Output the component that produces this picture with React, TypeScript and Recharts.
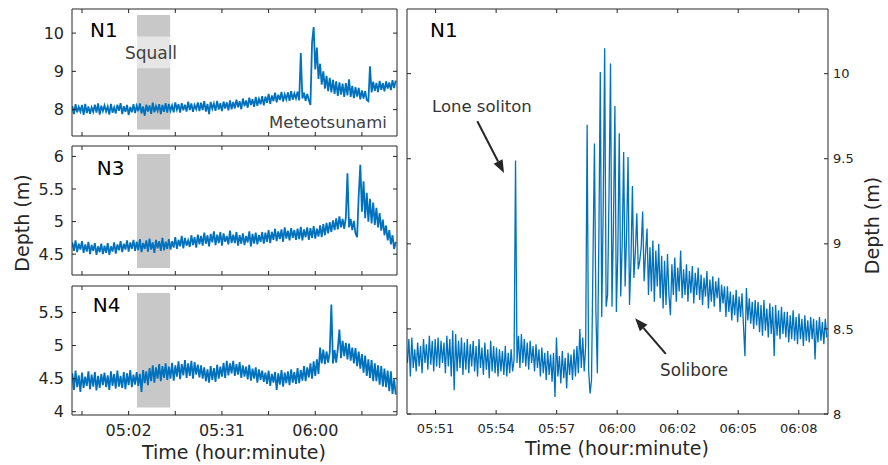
import React from "react";
import { LineChart, Line, XAxis, YAxis, ReferenceArea, ReferenceLine } from "recharts";

const BLUE = "#0072BD";
const AXIS = "#262626";
const FONT = "DejaVu Sans, sans-serif";

// time axis in minutes after midnight
const LEFT_START = 284.5;
const LEFT_STEP = 0.5;
const LEFT_DOMAIN = [284.4, 385.4];
const LEFT_TICKS = [287.5, 302, 316.5, 331, 345.5, 360, 374.5];
const LEFT_LABELED = [302, 331, 360];

const ZOOM_START = 349.95;
const ZOOM_STEP = 0.07;
const ZOOM_DOMAIN = [349.93, 370.1];
const ZOOM_TICKS = [351.3, 354.2, 357.1, 360, 362.9, 365.8, 368.7];

const SQUALL = [304.6, 314.9];

// depth (m) at N1, every 30 s
const N1_DEPTH = [
  8.09,7.88,8.14,7.93,8.07,7.95,8.12,7.86,8.15,7.91,8.08,7.89,8.06,7.94,8.13,7.92,8.16,7.87,8.10,7.96,
  8.11,7.95,8.08,7.87,8.15,7.92,8.06,7.90,8.13,7.97,8.17,7.88,8.09,7.94,8.12,7.86,8.07,7.93,8.14,7.91,
  8.10,7.96,8.16,7.90,8.08,7.84,8.13,7.95,8.11,7.89,8.18,7.93,8.09,7.97,8.14,7.88,8.12,7.94,8.17,7.92,
  8.15,7.97,8.11,7.93,8.19,8.00,8.14,7.92,8.17,7.98,8.13,7.95,8.21,7.99,8.16,7.94,8.12,8.01,8.19,7.96,
  8.18,7.99,8.22,7.95,8.15,7.88,8.20,8.02,8.16,7.97,8.23,8.00,8.17,7.96,8.21,8.03,8.19,7.98,8.24,8.01,
  8.20,8.03,8.26,8.06,8.22,8.01,8.29,8.09,8.24,8.05,8.31,8.12,8.27,8.07,8.33,8.10,8.28,8.14,8.35,8.11,
  8.34,8.18,8.41,8.15,8.37,8.22,8.44,8.19,8.39,8.25,8.46,8.21,8.40,8.27,8.45,8.23,8.48,8.26,8.42,8.29,
  8.47,8.24,9.48,8.29,8.44,8.23,8.41,8.25,8.12,9.75,10.16,9.05,9.62,8.80,9.20,8.65,9.00,8.55,8.88,8.48,
  8.83,8.45,8.78,8.41,8.74,8.36,8.71,8.39,8.68,8.33,8.69,8.37,8.79,8.33,8.62,8.30,8.59,8.34,8.57,8.27,
  8.50,8.29,8.48,8.25,8.22,9.13,8.45,8.73,8.49,8.70,8.46,8.75,8.52,8.69,8.48,8.74,8.55,8.71,8.51,8.77,
  8.56,8.76,
];

const N3_DEPTH = [
  4.68,4.55,4.71,4.53,4.66,4.57,4.70,4.52,4.65,4.54,4.69,4.50,4.64,4.55,4.67,4.49,4.62,4.53,4.66,4.50,
  4.63,4.52,4.67,4.49,4.62,4.54,4.68,4.51,4.65,4.56,4.70,4.53,4.66,4.57,4.71,4.54,4.68,4.58,4.72,4.55,
  4.69,4.56,4.73,4.53,4.67,4.58,4.71,4.54,4.74,4.57,4.68,4.52,4.72,4.59,4.70,4.55,4.75,4.56,4.69,4.58,
  4.73,4.57,4.70,4.60,4.76,4.58,4.72,4.62,4.78,4.59,4.75,4.63,4.71,4.61,4.79,4.64,4.76,4.60,4.80,4.65,
  4.78,4.63,4.83,4.66,4.79,4.62,4.81,4.68,4.85,4.64,4.80,4.67,4.84,4.63,4.82,4.69,4.78,4.65,4.86,4.67,
  4.80,4.67,4.84,4.63,4.79,4.66,4.82,4.64,4.78,4.68,4.85,4.62,4.81,4.66,4.83,4.65,4.79,4.69,4.84,4.66,
  4.83,4.69,4.87,4.67,4.84,4.72,4.89,4.70,4.85,4.73,4.88,4.69,4.91,4.74,4.86,4.71,4.90,4.75,4.87,4.72,
  4.89,4.73,4.92,4.71,4.88,4.76,4.91,4.72,4.90,4.75,4.93,4.74,4.89,4.77,4.94,4.76,4.96,4.79,4.98,4.82,
  4.99,4.84,5.02,4.87,5.05,4.88,5.08,4.91,5.04,4.89,5.06,5.74,4.91,5.04,4.87,5.01,4.82,4.76,5.40,5.87,
  5.15,5.62,5.05,5.44,5.00,5.35,4.97,5.29,4.95,5.21,4.91,5.13,4.86,5.03,4.79,4.94,4.71,4.87,4.65,4.79,
  4.58,4.69,
];

const N4_DEPTH = [
  4.58,4.33,4.62,4.37,4.55,4.30,4.59,4.36,4.53,4.39,4.61,4.34,4.56,4.38,4.60,4.32,4.54,4.36,4.57,4.40,
  4.59,4.37,4.55,4.33,4.61,4.39,4.57,4.35,4.62,4.38,4.54,4.36,4.60,4.34,4.58,4.40,4.63,4.37,4.56,4.41,
  4.60,4.39,4.57,4.30,4.63,4.43,4.61,4.40,4.66,4.46,4.70,4.44,4.67,4.50,4.72,4.46,4.69,4.51,4.73,4.48,
  4.68,4.50,4.74,4.47,4.70,4.53,4.76,4.49,4.72,4.55,4.78,4.51,4.73,4.54,4.77,4.50,4.75,4.56,4.71,4.52,
  4.70,4.50,4.67,4.46,4.64,4.44,4.69,4.48,4.66,4.45,4.71,4.50,4.68,4.53,4.74,4.51,4.77,4.55,4.73,4.58,
  4.77,4.54,4.72,4.56,4.75,4.51,4.70,4.53,4.68,4.49,4.71,4.47,4.65,4.50,4.67,4.44,4.64,4.48,4.62,4.45,
  4.59,4.42,4.62,4.39,4.57,4.44,4.60,4.33,4.58,4.41,4.63,4.38,4.59,4.43,4.61,4.40,4.64,4.44,4.60,4.42,
  4.66,4.43,4.63,4.47,4.69,4.46,4.67,4.52,4.73,4.50,4.76,4.54,4.79,4.57,4.97,4.73,4.94,4.72,4.91,4.74,
  4.90,5.62,4.73,4.93,4.74,4.95,5.24,4.81,5.07,4.84,5.04,4.79,5.03,4.77,4.97,4.73,4.96,4.69,4.91,4.65,
  4.87,4.59,4.85,4.54,4.79,4.51,4.78,4.46,4.73,4.46,4.70,4.41,4.69,4.38,4.65,4.37,4.62,4.31,4.61,4.27,
  4.49,4.26,
];

// N1 close-up, every 4.2 s
const N1_ZOOM = [
  8.30,8.44,8.22,8.45,8.27,8.38,8.25,8.42,8.28,8.40,8.24,8.44,8.30,8.41,8.26,8.46,8.29,8.43,8.25,8.44,
  8.28,8.45,8.27,8.43,8.30,8.42,8.24,8.46,8.28,8.44,8.22,8.49,8.14,8.47,8.25,8.43,8.27,8.45,8.23,8.42,
  8.26,8.44,8.24,8.41,8.28,8.43,8.25,8.40,8.22,8.44,8.27,8.39,8.23,8.42,8.26,8.38,8.21,8.43,8.25,8.40,
  8.24,8.39,8.22,8.38,8.25,8.37,8.23,8.40,8.22,8.36,8.24,8.38,8.25,8.32,9.49,8.30,8.46,8.27,8.47,8.30,
  8.44,8.28,8.42,8.26,8.43,8.30,8.40,8.25,8.41,8.27,8.38,8.22,8.39,8.24,8.36,8.20,8.37,8.23,8.35,8.19,
  8.36,8.10,8.45,8.22,8.34,8.18,8.37,8.21,8.33,8.15,8.36,8.23,8.35,8.20,8.38,8.22,8.40,8.24,8.50,8.27,
  8.45,8.25,8.40,9.70,8.26,8.12,8.20,8.90,9.59,8.60,8.24,9.00,10.01,8.57,9.20,10.15,8.63,8.70,9.30,10.06,
  8.63,9.10,9.81,8.60,8.95,9.65,8.69,9.00,9.54,8.75,9.05,9.51,8.64,8.90,9.34,8.80,8.95,9.18,8.85,8.90,
  8.98,9.19,8.78,8.95,9.09,8.70,8.98,8.72,9.02,8.66,8.96,8.75,9.00,8.68,8.93,8.62,8.90,8.64,8.94,8.70,
  8.58,8.88,8.70,8.92,8.66,8.86,8.72,8.96,8.68,8.85,8.70,8.88,8.66,8.84,8.71,8.87,8.65,8.83,8.70,8.86,
  8.67,8.82,8.64,8.80,8.69,8.84,8.62,8.79,8.66,8.81,8.63,8.78,8.68,8.80,8.60,8.76,8.65,8.75,8.57,8.75,
  8.60,8.72,8.55,8.70,8.58,8.73,8.54,8.69,8.57,8.71,8.52,8.34,8.74,8.55,8.68,8.53,8.66,8.50,8.67,8.52,
  8.66,8.48,8.64,8.46,8.67,8.49,8.62,8.45,8.65,8.47,8.63,8.34,8.64,8.46,8.61,8.44,8.63,8.47,8.60,8.45,
  8.60,8.42,8.58,8.44,8.61,8.43,8.57,8.41,8.59,8.44,8.56,8.40,8.58,8.43,8.55,8.42,8.57,8.44,8.56,8.32,
  8.55,8.42,8.57,8.43,8.54,8.41,8.56,8.45,
];

const hhmm = (t: number) => {
  const m = Math.floor(t + 1e-6);
  return `${String(Math.floor(m / 60)).padStart(2, "0")}:${String(m % 60).padStart(2, "0")}`;
};

const series = (vals: number[], start: number, step: number) =>
  vals.map((v, i) => ({ t: +(start + i * step).toFixed(3), v }));

const blank = () => "";

// eslint-disable-next-line @typescript-eslint/no-explicit-any
function Arrow({ x1, y1, x2, y2 }: any) {
  const a = Math.atan2(y2 - y1, x2 - x1);
  const bx = x2 - 13 * Math.cos(a);
  const by = y2 - 13 * Math.sin(a);
  const px = -Math.sin(a) * 5;
  const py = Math.cos(a) * 5;
  return (
    <g>
      <line x1={x1} y1={y1} x2={bx} y2={by} stroke={AXIS} strokeWidth={2} />
      <polygon points={`${x2},${y2} ${bx + px},${by + py} ${bx - px},${by - py}`} fill={AXIS} />
    </g>
  );
}

interface PanelProps {
  top: number;
  height: number;
  values: number[];
  domain: number[];
  ticks: number[];
  box: number[];
  band?: number[];
  last?: boolean;
}

function LeftPanel({ top, height, values, domain, ticks, box, band, last }: PanelProps) {
  const data = series(values, LEFT_START, LEFT_STEP);
  const tickStyle = { fill: AXIS, fontSize: 16, fontFamily: FONT };
  return (
    <div style={{ position: "absolute", left: 0, top }}>
      <LineChart width={400} height={height} data={data}
        margin={{ top: 8, right: 2, bottom: last ? 0 : 3, left: 0 }}>
        <XAxis type="number" dataKey="t" domain={LEFT_DOMAIN} ticks={LEFT_TICKS} allowDataOverflow
          interval={0} height={last ? 50 : 1} tickSize={-4} tickMargin={14} stroke={AXIS}
          tick={tickStyle}
          tickFormatter={(t: number) => (last && LEFT_LABELED.includes(t) ? hhmm(t) : "")} />
        <XAxis xAxisId="top" orientation="top" type="number" dataKey="t" domain={LEFT_DOMAIN}
          ticks={LEFT_TICKS} allowDataOverflow interval={0} height={1} tickSize={-4} stroke={AXIS}
          tickFormatter={blank} />
        <YAxis type="number" domain={domain} ticks={ticks} allowDataOverflow interval={0}
          width={72} tickSize={-4} tickMargin={12} stroke={AXIS} tick={tickStyle} />
        <YAxis yAxisId="r" orientation="right" type="number" domain={domain} ticks={ticks}
          allowDataOverflow interval={0} width={1} tickSize={-4} stroke={AXIS} tickFormatter={blank} />
        <ReferenceArea x1={SQUALL[0]} x2={SQUALL[1]} y1={box[0]} y2={box[1]}
          fill="#c8c8c8" fillOpacity={1} stroke="none" ifOverflow="visible" />
        {band && (
          <ReferenceArea x1={SQUALL[0]} x2={SQUALL[1]} y1={band[0]} y2={band[1]}
            fill="#ffffff" fillOpacity={0.55} stroke="none" ifOverflow="visible" />
        )}
        <Line xAxisId="top" yAxisId="r" type="linear" dataKey="v" stroke="none" dot={false}
          isAnimationActive={false} />
        <Line type="linear" dataKey="v" stroke={BLUE} strokeWidth={1.8} dot={false}
          isAnimationActive={false} />
        <ReferenceArea fill="none" stroke={AXIS} strokeWidth={1} ifOverflow="visible" />
      </LineChart>
    </div>
  );
}

function ZoomPanel() {
  const data = series(N1_ZOOM, ZOOM_START, ZOOM_STEP);
  const tickStyle = { fill: AXIS, fontSize: 13, fontFamily: FONT };
  const yTicks = [8, 8.5, 9, 9.5, 10];
  const yDomain = [8, 10.38];
  return (
    <div style={{ position: "absolute", left: 400, top: 0 }}>
      <LineChart width={488} height={465} data={data}
        margin={{ top: 8, right: 0, bottom: 0, left: 6 }}>
        <XAxis type="number" dataKey="t" domain={ZOOM_DOMAIN} ticks={ZOOM_TICKS} allowDataOverflow
          interval={0} height={51} tickSize={-4} tickMargin={14} stroke={AXIS}
          tick={tickStyle} tickFormatter={hhmm} />
        <XAxis xAxisId="top" orientation="top" type="number" dataKey="t" domain={ZOOM_DOMAIN}
          ticks={ZOOM_TICKS} allowDataOverflow interval={0} height={1} tickSize={-4} stroke={AXIS}
          tickFormatter={blank} />
        <YAxis orientation="right" type="number" domain={yDomain} ticks={yTicks} allowDataOverflow
          interval={0} width={60} tickSize={-4} tickMargin={9} stroke={AXIS} tick={tickStyle} />
        <YAxis yAxisId="l" orientation="left" type="number" domain={yDomain} ticks={yTicks}
          allowDataOverflow interval={0} width={1} tickSize={-4} stroke={AXIS} tickFormatter={blank} />
        <Line xAxisId="top" yAxisId="l" type="linear" dataKey="v" stroke="none" dot={false}
          isAnimationActive={false} />
        <Line type="linear" dataKey="v" stroke={BLUE} strokeWidth={1.3} dot={false}
          isAnimationActive={false} />
        <ReferenceLine segment={[{ x: 353.3, y: 9.72 }, { x: 354.58, y: 9.416 }]}
          shape={Arrow} ifOverflow="visible" />
        <ReferenceLine segment={[{ x: 362.33, y: 8.353 }, { x: 360.86, y: 8.563 }]}
          shape={Arrow} ifOverflow="visible" />
        <ReferenceArea fill="none" stroke={AXIS} strokeWidth={1} ifOverflow="visible" />
      </LineChart>
    </div>
  );
}

export default function App() {
  return (
    <div style={{ position: "absolute", left: 0, top: 0, width: 888, height: 465,
      background: "#fff", fontFamily: FONT }}>
      <LeftPanel top={0} height={140} values={N1_DEPTH} domain={[7.31, 10.63]} ticks={[8, 9, 10]}
        box={[7.48, 10.475]} band={[9.08, 9.914]} />
      <LeftPanel top={137} height={142} values={N3_DEPTH} domain={[4.18, 6.16]}
        ticks={[4.5, 5, 5.5, 6]} box={[4.288, 6.038]} />
      <LeftPanel top={277} height={188} values={N4_DEPTH} domain={[3.95, 5.9]}
        ticks={[4, 4.5, 5, 5.5]} box={[4.065, 5.795]} last />
      <ZoomPanel />

      {/* labels */}
      <svg width={888} height={465} fontFamily={FONT}
        style={{ position: "absolute", left: 0, top: 0, pointerEvents: "none" }}>
        <text x={90} y={36.7} fontSize={20} fill="#000">N1</text>
        <text x={96.7} y={175} fontSize={20} fill="#000">N3</text>
        <text x={92.7} y={311.7} fontSize={20} fill="#000">N4</text>
        <text x={430} y={36.7} fontSize={20} fill="#000">N1</text>
        <text x={151} y={59} fontSize={17} textAnchor="middle" fill="#404040">Squall</text>
        <text x={269} y={128} fontSize={16.5} fill="#404040">Meteotsunami</text>
        <text x={432} y={111.5} fontSize={16.5} fill="#333">Lone soliton</text>
        <text x={660} y={375.5} fontSize={16.8} fill="#333">Solibore</text>
        <text x={234} y={459} fontSize={19} textAnchor="middle" fill={AXIS}>Time (hour:minute)</text>
        <text x={617} y={455} fontSize={19} textAnchor="middle" fill={AXIS}>Time (hour:minute)</text>
        <text transform="translate(28.5,223) rotate(-90)" fontSize={19} textAnchor="middle"
          fill={AXIS}>Depth (m)</text>
        <text transform="translate(879,225.5) rotate(-90)" fontSize={19} textAnchor="middle"
          fill={AXIS}>Depth (m)</text>
      </svg>
    </div>
  );
}
